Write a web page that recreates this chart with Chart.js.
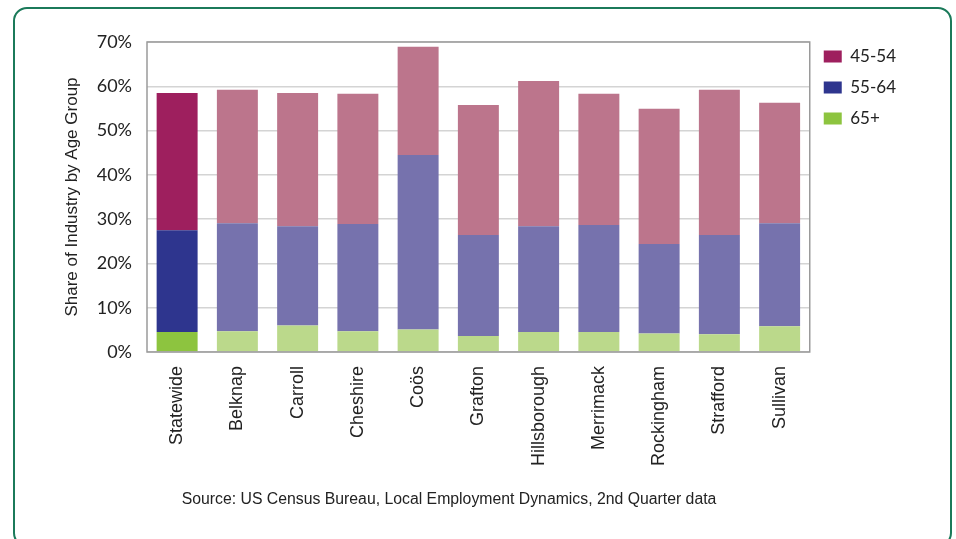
<!DOCTYPE html>
<html>
<head>
<meta charset="utf-8">
<script src="https://cdn.jsdelivr.net/npm/chart.js@4.4.1/dist/chart.umd.min.js"></script>
<style>
  body { margin: 0; background: #fff; }
  #wrap { position: relative; width: 956px; height: 539px; overflow: hidden; }
  #frame {
    position: absolute; left: 13px; top: 7px; width: 939px; height: 540px;
    border: 2.5px solid #1b7a5a; border-radius: 14px; box-sizing: border-box;
  }
  #chart { position: absolute; left: 0; top: 0; }
  #source {
    position: absolute; left: 0; width: 898px; top: 490px; text-align: center;
    font: 15.8px "Liberation Sans", Arial, sans-serif; color: #222;
  }
</style>
</head>
<body>
<div id="wrap">
  <div id="frame"></div>
  <canvas id="chart" width="956" height="539"></canvas>
  <div id="source">Source: US Census Bureau, Local Employment Dynamics, 2nd Quarter data</div>
</div>
<script>
// kategori (Statewide + county)
const categories = ['Statewide', 'Belknap', 'Carroll', 'Cheshire', 'Coös', 'Grafton', 'Hillsborough', 'Merrimack', 'Rockingham', 'Strafford', 'Sullivan'];

// nilai persen per kelompok umur
const age65plus = [4.5, 4.7, 6.0, 4.7, 5.1, 3.6, 4.5, 4.5, 4.2, 4.0, 5.8];
const age55to64 = [23.0, 24.4, 22.4, 24.2, 39.4, 22.8, 23.9, 24.2, 20.2, 22.4, 23.3];
const age45to54 = [31.0, 30.1, 30.1, 29.4, 24.4, 29.4, 32.8, 29.6, 30.5, 32.8, 27.2];

const yTicks = [0, 10, 20, 30, 40, 50, 60, 70];

// warna: bar pertama (Statewide) lebih gelap
function colors(dark, light) {
    return categories.map((c, i) => i === 0 ? dark : light);
}

// bingkai area plot
const plotBorder = {
    id: 'plotBorder',
    afterLayout(chart) {
        // geser legend sedikit ke atas
        chart.legend.top -= 8;
        chart.legend.bottom -= 8;
    },
    afterDatasetsDraw(chart) {
        const { ctx, chartArea: a } = chart;
        ctx.save();
        ctx.strokeStyle = '#9a9a9a';
        ctx.lineWidth = 1.5;
        ctx.strokeRect(a.left, a.top, a.right - a.left, a.bottom - a.top);
        ctx.restore();
    }
};

const ctx = document.getElementById('chart').getContext('2d');
const chart = new Chart(ctx, {
    type: 'bar',
    data: {
        labels: categories,
        datasets: [
            { label: '65+', data: age65plus, backgroundColor: colors('#8dc43f', '#bbd98b') },
            { label: '55-64', data: age55to64, backgroundColor: colors('#2e358e', '#7672ad') },
            { label: '45-54', data: age45to54, backgroundColor: colors('#9e1f5e', '#bc758c') }
        ]
    },
    options: {
        responsive: false,
        animation: false,
        layout: { padding: { left: 56, top: 42, right: 50, bottom: 0 } },
        datasets: { bar: { barPercentage: 0.68, categoryPercentage: 1 } },
        plugins: {
            tooltip: { enabled: false },
            legend: {
                position: 'right',
                align: 'start',
                reverse: true,
                labels: {
                    boxWidth: 18,
                    boxHeight: 12,
                    padding: 14,
                    color: '#222',
                    font: { family: 'Lato', size: 17 }
                }
            }
        },
        scales: {
            x: {
                stacked: true,
                grid: { display: false, drawTicks: false },
                border: { display: false },
                afterFit: s => { s.height = 187; },
                ticks: {
                    minRotation: 90,
                    maxRotation: 90,
                    padding: 14,
                    color: '#222',
                    font: { family: 'Liberation Sans', size: 18 }
                }
            },
            y: {
                stacked: true,
                min: 0,
                max: 70,
                afterFit: s => { s.width = 91; },
                afterBuildTicks: s => { s.ticks = yTicks.map(v => ({ value: v })); },
                grid: { color: '#d4d4d4', lineWidth: 1.5, drawTicks: false },
                border: { display: false },
                ticks: {
                    padding: 15,
                    color: '#222',
                    font: { family: 'Lato', size: 18 },
                    callback: v => v + '%'
                },
                title: {
                    display: true,
                    text: 'Share of Industry by Age Group',
                    color: '#222',
                    padding: { top: 6, bottom: 0 },
                    font: { family: 'Liberation Sans', size: 17 }
                }
            }
        }
    },
    plugins: [plotBorder]
});
</script>
</body>
</html>
